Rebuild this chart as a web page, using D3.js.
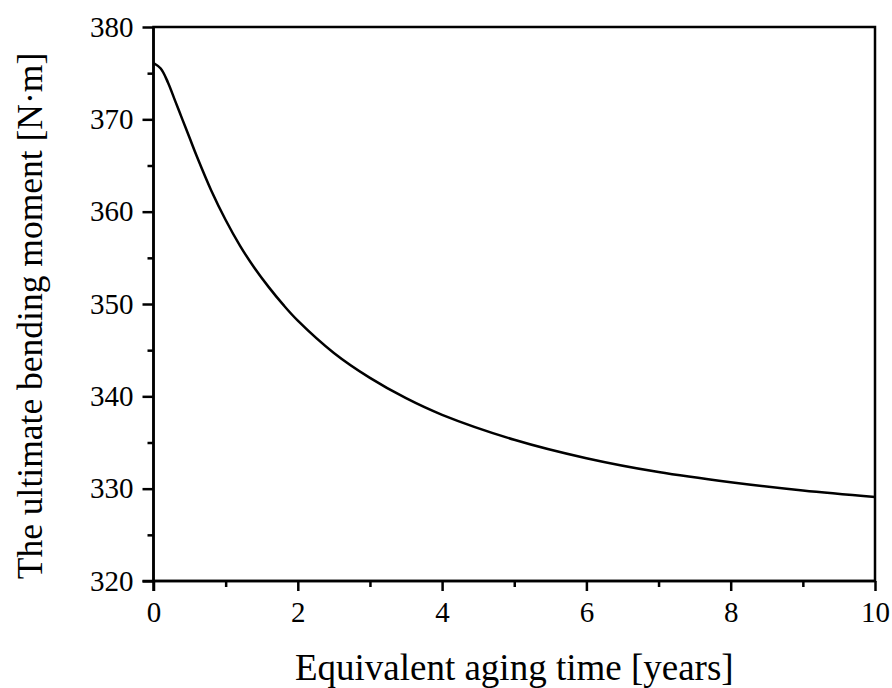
<!DOCTYPE html>
<html>
<head>
<meta charset="utf-8">
<script src="https://cdn.jsdelivr.net/npm/d3@7"></script>
<style>
  body { margin: 0; background: #fff; }
  svg text { font-family: 'Liberation Serif', 'Times New Roman', serif; fill: #000; }
</style>
</head>
<body>
<svg id="chart"></svg>
<script>
// aging time in years
const agingTime = [0, 0.1, 0.2, 0.3, 0.4, 0.5, 0.6, 0.8, 1.0, 1.2, 1.4, 1.6, 1.8, 2.0, 2.5, 3.0, 3.5, 4.0, 5.0, 6.0, 7.0, 8.0, 9.0, 10.0]
// ultimate bending moment N·m
const moment = [376.1, 375.5, 374.0, 372.0, 370.0, 368.0, 366.0, 362.3, 359.1, 356.3, 353.9, 351.8, 349.9, 348.2, 344.7, 342.0, 339.8, 338.0, 335.3, 333.3, 331.8, 330.7, 329.8, 329.1]

const xTicks = [0, 2, 4, 6, 8, 10]
const xMinor = [1, 3, 5, 7, 9]
const yTicks = [320, 330, 340, 350, 360, 370, 380]
const yMinor = [325, 335, 345, 355, 365, 375]

const xTitle = 'Equivalent aging time [years]'
const yTitle = 'The ultimate bending moment [N·m]'

const width = 892, height = 688
const margin = {top: 27, right: 17, bottom: 107, left: 153.5}

const svg = d3.select('#chart')
    .attr('width', width)
    .attr('height', height)

const x = d3.scaleLinear()
    .domain([0, 10])
    .range([margin.left, width - margin.right])

const y = d3.scaleLinear()
    .domain([320, 380])
    .range([height - margin.bottom, margin.top])

const data = agingTime.map((t, i) => ({t: t, v: moment[i]}))

// frame (top & right)
svg.append('rect')
    .attr('x', x(0))
    .attr('y', y(380))
    .attr('width', x(10) - x(0))
    .attr('height', y(320) - y(380))
    .attr('fill', 'none')
    .attr('stroke', '#000')
    .attr('stroke-width', 2.5)

// minor ticks
svg.append('g')
    .attr('transform', `translate(0,${y(320)})`)
    .call(d3.axisBottom(x).tickValues(xMinor).tickSize(6).tickFormat(''))
    .call(g => g.select('.domain').remove())
    .selectAll('line').attr('stroke-width', 2.5)

svg.append('g')
    .attr('transform', `translate(${x(0)},0)`)
    .call(d3.axisLeft(y).tickValues(yMinor).tickSize(6).tickFormat(''))
    .call(g => g.select('.domain').remove())
    .selectAll('line').attr('stroke-width', 2.5)

// major axes
const gx = svg.append('g')
    .attr('transform', `translate(0,${y(320)})`)
    .call(d3.axisBottom(x).tickValues(xTicks).tickSize(10).tickSizeOuter(0).tickPadding(10))
gx.select('.domain').remove()
gx.selectAll('line').attr('stroke-width', 2.5)
gx.selectAll('text').style('font-size', '29px')

const gy = svg.append('g')
    .attr('transform', `translate(${x(0)},0)`)
    .call(d3.axisLeft(y).tickValues(yTicks).tickSize(11).tickSizeOuter(0).tickPadding(9))
gy.select('.domain').remove()
gy.selectAll('line').attr('stroke-width', 2.5)
gy.selectAll('text').style('font-size', '29px')

// axis lines
svg.append('line')
    .attr('x1', x(0) - 11).attr('x2', x(10))
    .attr('y1', y(320)).attr('y2', y(320))
    .attr('stroke', '#000').attr('stroke-width', 2.5)
svg.append('line')
    .attr('x1', x(0)).attr('x2', x(0))
    .attr('y1', y(380)).attr('y2', y(320) + 10)
    .attr('stroke', '#000').attr('stroke-width', 2.5)

// curve
const line = d3.line()
    .x(d => x(d.t))
    .y(d => y(d.v))
    .curve(d3.curveCatmullRom.alpha(0.5))

svg.append('path')
    .datum(data)
    .attr('d', line)
    .attr('fill', 'none')
    .attr('stroke', '#000')
    .attr('stroke-width', 2.5)

// titles
svg.append('text')
    .attr('x', (x(0) + x(10)) / 2)
    .attr('y', 680)
    .attr('text-anchor', 'middle')
    .style('font-size', '37px')
    .text(xTitle)

svg.append('text')
    .attr('transform', `translate(42,316) rotate(-90)`)
    .attr('text-anchor', 'middle')
    .style('font-size', '35.5px')
    .text(yTitle)
</script>
</body>
</html>
